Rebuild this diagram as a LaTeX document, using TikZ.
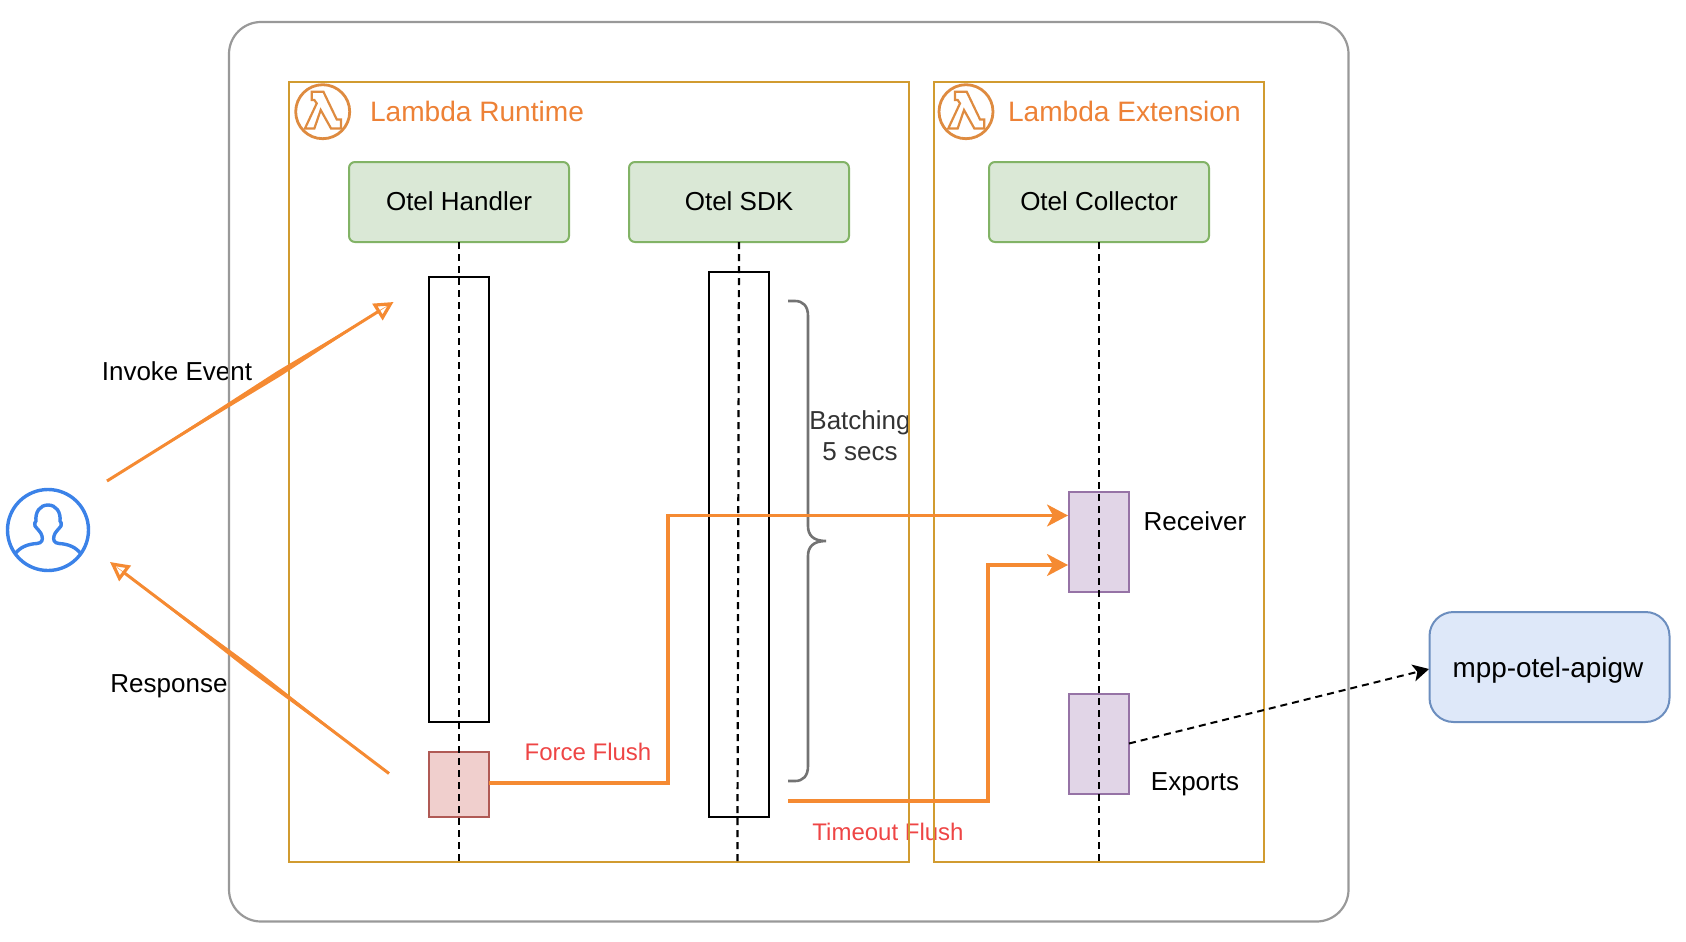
\documentclass[tikz,border=0pt]{standalone}
\usepackage{fontspec}
\setmainfont{Liberation Sans}
\usetikzlibrary{arrows.meta,calc}
\definecolor{gold}{HTML}{D19B30}
\definecolor{outergray}{HTML}{999999}
\definecolor{orangeline}{HTML}{F58A32}
\definecolor{titleorange}{HTML}{ED8136}
\definecolor{iconorange}{HTML}{DE8B40}
\definecolor{redtext}{HTML}{EE4545}
\definecolor{userblue}{HTML}{3B82E8}
\definecolor{HeadStroke}{HTML}{82B366}
\definecolor{HeadFill}{HTML}{DAE8D6}
\definecolor{PurpleStroke}{HTML}{9673A6}
\definecolor{PurpleFill}{HTML}{E1D5E7}
\definecolor{RedStroke}{HTML}{B05A55}
\definecolor{RedFill}{HTML}{F0CFCD}
\definecolor{ApiStroke}{HTML}{6C8EBF}
\definecolor{ApiFill}{HTML}{DEE8F9}
\newcommand{\fs}[1]{\fontsize{#1}{#1}\selectfont}
\tikzset{
  x=1pt,y=-1pt,
  base/.style={inner sep=0pt,outer sep=0pt,align=center,text=black},
  txt/.style={base,font=\fs{26}},
  redlabel/.style={base,font=\fs{24},text=redtext},
  title/.style={base,font=\fs{28.1},text=titleorange,anchor=west},
  group/.style={draw=gold,line width=2.2pt},
  greenbox/.style={base,draw=HeadStroke,fill=HeadFill,line width=2pt,rounded corners=6pt,minimum width=220pt,minimum height=80pt,font=\fs{26}},
  activation/.style={base,draw=black,line width=2.4pt,minimum width=60pt},
  purplebox/.style={base,draw=PurpleStroke,fill=PurpleFill,line width=2pt,minimum width=60pt,minimum height=100pt},
  lifeline/.style={draw=black,line width=2.2pt,dash pattern=on 7pt off 5pt},
  flow/.style={draw=orangeline,line width=3.2pt,-{Stealth[length=21pt,width=22pt,inset=6pt]}},
  callflow/.style={draw=orangeline,line width=3pt,-{Triangle[open,length=19pt,width=19pt,line width=3.2pt,fill=white]}},
  lens/.style={fill=orangeline,draw=none},
  lambdaicon/.pic={
    \draw[iconorange,line width=2.8pt] (0,0) circle[radius=27];
    \draw[iconorange,line width=2.2pt,line join=miter]
      (-11,-20) -- (0.7,-20) -- (14,7.7) -- (18.3,7.7) -- (18.3,16.7) -- (8.3,16.7)
      -- (-2,-1.7) -- (-8.3,16.7) -- (-17.7,16.7) -- (-6,-8.3) -- (-8.3,-11.7) -- (-11,-11.7) -- cycle;
  }
}
\begin{document}
\begin{tikzpicture}
\useasboundingbox (0,0) rectangle (1686,942);
% labels under the frame lines
\node[txt] (invoke) at (177,371) {Invoke Event};
\node[redlabel] (timeout) at (888,832) {Timeout Flush};
\node[txt] (response) at (169,686) {Response};
\node[base,font=\fs{26},text=black!80] (batch) at (860,436) {Batching\\[5pt]5 secs};
% frames
\draw[draw=outergray,line width=2.2pt,rounded corners=32pt] (229,22) rectangle (1348.5,921.5);
\node[group,base,draw=gold,minimum width=620pt,minimum height=780pt] (rt) at (598.8,472) {};
\node[group,base,draw=gold,minimum width=330pt,minimum height=780pt] (ext) at (1099,472) {};
\pic at (322.7,111.7) {lambdaicon};
\pic at (966,111.7) {lambdaicon};
\node[title] (rttitle) at (370,111.5) {Lambda Runtime};
\node[title] (exttitle) at (1008,111.5) {Lambda Extension};
% heads
\node[greenbox] (hand) at (459,202) {\raisebox{1pt}{Otel Handler}};
\node[greenbox] (sdk) at (739,202) {\raisebox{1pt}{Otel SDK}};
\node[greenbox] (coll) at (1099,202) {\raisebox{1pt}{Otel Collector}};
% activations
\node[activation,minimum height=445pt] (hact) at (459,499.5) {};
\node[activation,minimum height=545pt] (sact) at (739,544.5) {};
\node[base,draw=RedStroke,fill=RedFill,line width=2.2pt,minimum width=60pt,minimum height=65pt] (red) at (459,784.5) {};
\node[purplebox] (rec) at (1099,541.5) {};
\node[purplebox] (exp) at (1099,743.5) {};
% lifelines
\coordinate (sdkend) at (737.4,861);
\draw[lifeline] (hand.south) -- (hand.south |- rt.south);
\draw[lifeline] (sdk.south) -- (sdkend);
\draw[lifeline] (coll.south) -- (coll.south |- ext.south);
% brace
\coordinate (bt) at (788,301);
\coordinate (bb) at (788,781);
\coordinate (btip) at (826,541);
\draw[draw=black!55,line width=2.6pt] (bt) -- (795,301) .. controls (803,301) and (808,306) .. (808,316)
  -- (808,526) .. controls (808,535) and (813,541) .. (btip)
  (btip) .. controls (813,541) and (808,547) .. (808,556) -- (808,766)
  .. controls (808,776) and (803,781) .. (795,781) -- (bb);
% labels
\node[txt] (recl) at (1195,521) {Receiver};
\node[txt] (expl) at (1195,784) {Exports};
\node[redlabel] (force) at (588,752) {Force Flush};
\node[base,draw=ApiStroke,fill=ApiFill,line width=2pt,rounded corners=24pt,minimum width=240pt,minimum height=110pt] (api) at (1549.5,667) {};
\node[base,font=\fs{27.9}] (apilabel) at (1548,670) {mpp-otel-apigw};
% user icon
\node[base,draw=userblue,line width=3.4pt,circle,minimum size=81pt] (user) at (48,530) {};
\begin{scope}[shift={(48,530)},draw=userblue,line width=3.4pt]
\draw (-33,24) .. controls (-28,17) and (-20,14) .. (-11,13.5) .. controls (-6,13) and (-5,10) .. (-6,6)
  .. controls (-7,2) and (-10,0) .. (-13,-4) .. controls (-14,-6) and (-13,-8) .. (-12,-9)
  .. controls (-13,-18) and (-8,-25) .. (0,-25) .. controls (8,-25) and (13,-18) .. (12,-9)
  .. controls (13,-8) and (14,-6) .. (13,-4) .. controls (10,0) and (7,2) .. (6,6)
  .. controls (5,10) and (6,13) .. (11,13.5) .. controls (20,14) and (28,17) .. (33,24);
\end{scope}
% connectors
\coordinate (ia) at (107,481);
\coordinate (ib) at (393.5,302);
\coordinate (ra) at (389,773.5);
\coordinate (rb) at (110,562);
\draw[callflow] (ia) -- (ib);
\draw[callflow] (ra) -- (rb);
\fill[lens] (ia) -- ($(ia)!0.6!(ib)!3pt!90:(ib)$) -- (ib) -- ($(ia)!0.6!(ib)!3pt!-90:(ib)$) -- cycle;
\fill[lens] (ra) -- ($(ra)!0.5!(rb)!2.8pt!90:(rb)$) -- (rb) -- ($(ra)!0.5!(rb)!2.8pt!-90:(rb)$) -- cycle;
\coordinate (fs) at (489,783);
\coordinate (fx) at (668,515.5);
\coordinate (fend) at (1068,515.5);
\draw[flow] (fs) -- (fx |- fs) -- (fx) -- (fend);
\coordinate (ts) at (788,801);
\coordinate (tx) at (988,801);
\coordinate (ty) at (988,565);
\coordinate (tend) at (1068,565);
\draw[flow] (ts) -- (tx) -- (ty) -- (tend);
\draw[draw=black,line width=2pt,dash pattern=on 7pt off 5pt,-{Stealth[length=16pt,width=17pt,inset=4pt]}] (exp.east) -- (1429,669) coordinate (apiin);
\end{tikzpicture}
\end{document}
